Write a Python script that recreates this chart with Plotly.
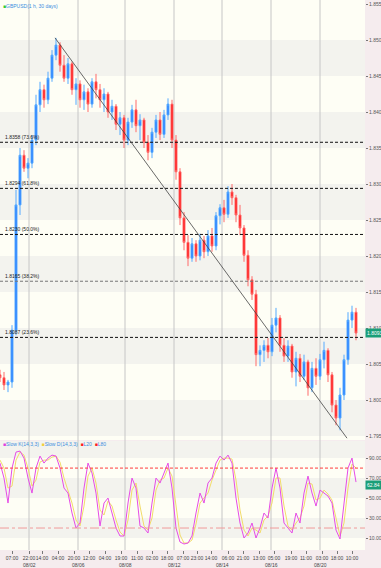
import plotly.graph_objects as go

# ---------------- data ----------------
bar_x = list(range(0, 360, 4))  # bar index (hours, 4-hour candles)

open_ = [1.8035,1.8031,1.8021,1.8025,1.8097,1.8271,1.8340,1.8322,1.8329,1.8361,
 1.8410,1.8431,1.8417,1.8447,1.8479,1.8493,1.8465,1.8447,1.8467,1.8431,
 1.8439,1.8417,1.8428,1.8411,1.8442,1.8431,1.8417,1.8425,1.8400,1.8408,
 1.8383,1.8392,1.8361,1.8386,1.8403,1.8381,1.8389,1.8358,1.8344,1.8372,
 1.8389,1.8369,1.8396,1.8411,1.8361,1.8317,1.8253,1.8219,1.8197,1.8217,
 1.8200,1.8222,1.8206,1.8228,1.8214,1.8256,1.8267,1.8258,1.8289,1.8281,
 1.8257,1.8239,1.8201,1.8167,1.8147,1.8063,1.8069,1.8076,1.8067,1.8104,
 1.8114,1.8076,1.8061,1.8075,1.8039,1.8058,1.8033,1.8053,1.8017,1.8044,
 1.8033,1.8056,1.8069,1.8035,1.7993,1.7975,1.8007,1.8056,1.8111,1.8122]
high = [1.8042,1.8039,1.8028,1.8104,1.8292,1.8350,1.8347,1.8336,1.8368,1.8424,
 1.8442,1.8438,1.8456,1.8486,1.8503,1.8497,1.8479,1.8475,1.8470,1.8447,
 1.8444,1.8438,1.8433,1.8447,1.8453,1.8439,1.8433,1.8428,1.8417,1.8411,
 1.8400,1.8396,1.8392,1.8410,1.8417,1.8397,1.8392,1.8368,1.8378,1.8396,
 1.8400,1.8403,1.8419,1.8417,1.8368,1.8322,1.8261,1.8229,1.8225,1.8222,
 1.8231,1.8228,1.8236,1.8239,1.8261,1.8272,1.8278,1.8297,1.8300,1.8285,
 1.8271,1.8243,1.8208,1.8172,1.8153,1.8076,1.8083,1.8086,1.8114,1.8128,
 1.8118,1.8086,1.8083,1.8078,1.8067,1.8064,1.8063,1.8056,1.8053,1.8058,
 1.8064,1.8081,1.8072,1.8039,1.8000,1.8017,1.8063,1.8122,1.8131,1.8128]
low = [1.8025,1.8014,1.8011,1.8017,1.8090,1.8257,1.8317,1.8308,1.8322,1.8354,
 1.8400,1.8406,1.8411,1.8442,1.8472,1.8456,1.8442,1.8439,1.8424,1.8410,
 1.8406,1.8403,1.8400,1.8406,1.8419,1.8406,1.8400,1.8392,1.8389,1.8375,
 1.8368,1.8350,1.8354,1.8378,1.8372,1.8361,1.8350,1.8333,1.8336,1.8364,
 1.8361,1.8364,1.8389,1.8350,1.8306,1.8243,1.8208,1.8186,1.8192,1.8192,
 1.8194,1.8197,1.8200,1.8206,1.8208,1.8244,1.8247,1.8253,1.8271,1.8247,
 1.8229,1.8192,1.8158,1.8139,1.8047,1.8047,1.8053,1.8058,1.8061,1.8094,
 1.8067,1.8053,1.8053,1.8031,1.8019,1.8025,1.8028,1.8006,1.8011,1.8021,
 1.8028,1.8044,1.8025,1.7983,1.7965,1.7958,1.8000,1.8049,1.8100,1.8083]
close = [1.8031,1.8021,1.8025,1.8097,1.8271,1.8340,1.8322,1.8329,1.8361,1.8410,
 1.8431,1.8417,1.8447,1.8479,1.8493,1.8465,1.8447,1.8467,1.8431,1.8439,
 1.8417,1.8428,1.8411,1.8442,1.8431,1.8417,1.8425,1.8400,1.8408,1.8383,
 1.8392,1.8361,1.8386,1.8403,1.8381,1.8389,1.8358,1.8344,1.8372,1.8389,
 1.8369,1.8396,1.8411,1.8361,1.8317,1.8253,1.8219,1.8197,1.8217,1.8200,
 1.8222,1.8206,1.8228,1.8214,1.8256,1.8267,1.8258,1.8289,1.8281,1.8257,
 1.8239,1.8201,1.8167,1.8147,1.8063,1.8069,1.8076,1.8067,1.8104,1.8114,
 1.8076,1.8061,1.8075,1.8039,1.8058,1.8033,1.8053,1.8017,1.8044,1.8033,
 1.8056,1.8069,1.8035,1.7993,1.7975,1.8007,1.8056,1.8111,1.8122,1.8093]

slow_k = [85,70,45,80,96,97,90,70,55,80,
 92,85,90,93,92,80,60,55,35,20,
 25,60,85,75,55,22,45,50,35,20,
 12,12,45,70,60,22,20,15,45,70,
 65,75,85,60,20,6,4,5,12,35,
 55,45,65,70,85,92,88,93,85,50,
 25,10,15,25,10,20,35,30,60,80,
 60,25,20,15,35,25,55,72,55,42,
 58,55,52,45,18,9,45,80,90,66]
slow_d = [88,80,60,62,88,96,93,80,62,68,
 86,88,88,91,92,86,70,58,45,28,
 22,42,72,80,65,38,33,47,42,28,
 16,12,28,58,65,42,22,18,30,58,
 68,70,80,72,40,13,5,5,8,24,
 45,50,55,68,78,88,90,90,89,68,
 38,18,12,20,18,15,28,32,45,70,
 70,42,22,18,25,30,42,65,64,48,
 50,58,54,48,30,12,25,60,84,80]

fib_prices = [1.8358, 1.8294, 1.8230, 1.8165, 1.8087]
fib_labels = ["1.8358 (73.6%)", "1.8294 (61.8%)", "1.8230 (50.0%)", "1.8165 (38.2%)", "1.8087 (23.6%)"]
fib_colors = ["#111111", "#111111", "#111111", "#777777", "#111111"]

trend_start = (55, 1.8503)
trend_end = (347, 1.7947)

price_ticks = [1.795, 1.800, 1.805, 1.810, 1.815, 1.820, 1.825, 1.830, 1.835, 1.840, 1.845, 1.850, 1.855]
stoch_ticks = [10, 30, 50, 70, 90]

time_tick_pos = [12, 29, 42, 58, 74, 89, 105, 121, 137, 152, 167, 183, 197, 211, 228, 243, 259, 274, 291, 306, 322, 337, 352]
time_tick_lbl = ["07:00","22:00","14:00","04:00","20:00","12:00","04:00","19:00","11:00","02:00","18:00",
                 "07:00","23:00","14:00","06:00","21:00","13:00","05:00","19:00","11:00","03:00","18:00","10:00"]
day_pos = [29, 78, 125, 174, 222, 271, 320]
day_lbl = ["08/02", "08/06", "08/08", "08/12", "08/14", "08/16", "08/20"]

last_price_lbl = "1.8093"
last_k_lbl = "62.84"

# ---------------- figure ----------------
CREAM = "#fefef5"
GRAY = "#f3f3ee"
FONT = "Liberation Sans"

fig = go.Figure()
fig.add_trace(go.Candlestick(
    x=bar_x, open=open_, high=high, low=low, close=close,
    xaxis="x", yaxis="y",
    increasing=dict(line=dict(color="#55aaff", width=1), fillcolor="#1c74ff"),
    decreasing=dict(line=dict(color="#ff6a6a", width=1), fillcolor="#ff0000"),
    whiskerwidth=0, hoverinfo="skip", showlegend=False))
fig.add_trace(go.Scatter(x=bar_x, y=slow_d, xaxis="x2", yaxis="y2", mode="lines",
                         line=dict(color="#f2dc6a", width=1), showlegend=False, hoverinfo="skip"))
fig.add_trace(go.Scatter(x=bar_x, y=slow_k, xaxis="x2", yaxis="y2", mode="lines",
                         line=dict(color="#e64ce6", width=1), showlegend=False, hoverinfo="skip"))

shapes = []
for lo in [1.845, 1.835, 1.825, 1.815, 1.805, 1.795]:
    shapes.append(dict(type="rect", xref="paper", yref="y", x0=0, x1=1, y0=lo, y1=lo + 0.005,
                       fillcolor=GRAY, line=dict(width=0), layer="below"))
for lo, hi in [(10, 30), (50, 70), (90, 107)]:
    shapes.append(dict(type="rect", xref="paper", yref="y2", x0=0, x1=1, y0=lo, y1=hi,
                       fillcolor=GRAY, line=dict(width=0), layer="below"))
for d in day_pos:
    shapes.append(dict(type="line", xref="x", yref="paper", x0=d, x1=d, y0=0, y1=1,
                       line=dict(color="#c6c6c6", width=1), layer="below"))
for p, c in zip(fib_prices, fib_colors):
    shapes.append(dict(type="line", xref="paper", yref="y", x0=0, x1=1, y0=p, y1=p,
                       line=dict(color=c, width=1, dash="3px,2px")))
shapes.append(dict(type="line", xref="x", yref="y", x0=trend_start[0], y0=trend_start[1],
                   x1=trend_end[0], y1=trend_end[1], line=dict(color="#444444", width=0.8)))
shapes.append(dict(type="line", xref="paper", yref="y2", x0=0, x1=1, y0=80, y1=80,
                   line=dict(color="#ff3c3c", width=1, dash="3px,2px")))
shapes.append(dict(type="line", xref="paper", yref="y2", x0=0, x1=1, y0=20, y1=20,
                   line=dict(color="#f09a9a", width=1, dash="dashdot")))

ann = []
ann.append(dict(xref="paper", yref="paper", x=0.003, y=0.999, xanchor="left", yanchor="top",
                showarrow=False, align="left",
                text='<span style="color:#33cc33">■</span>GBPUSD(1 h, 30 days)',
                font=dict(family=FONT, size=5, color="#3c8ee0")))
for p, t in zip(fib_prices, fib_labels):
    ann.append(dict(xref="x", yref="y", x=3, y=p, xanchor="left", yanchor="bottom",
                    showarrow=False, text=t, font=dict(family=FONT, size=5, color="#222222")))
ann.append(dict(xref="paper", yref="paper", x=0.003, y=0.193, xanchor="left", yanchor="middle",
                showarrow=False, align="left",
                text=('<span style="color:#e040e0">■</span>Slow K(14,3,3)  '
                      '<span style="color:#f2d040">■</span>Slow D(14,3,3)  '
                      '<span style="color:#ff2020">■</span>L20  '
                      '<span style="color:#ff2020">■</span>L80'),
                font=dict(family=FONT, size=5, color="#3c8ee0")))
for d, t in zip(day_pos, day_lbl):
    ann.append(dict(xref="x2", yref="paper", x=d, y=0, xanchor="center", yanchor="top",
                    yshift=-10, showarrow=False, text=t, font=dict(family=FONT, size=5, color="#444444")))
ann.append(dict(xref="paper", yref="y", x=1, y=close[-1], xanchor="left", yanchor="middle",
                showarrow=False, text=last_price_lbl, bgcolor="#1b9e78", borderpad=1,
                font=dict(family=FONT, size=5, color="#ffffff")))
ann.append(dict(xref="paper", yref="y2", x=1, y=slow_k[-1] - 3, xanchor="left", yanchor="middle",
                showarrow=False, text=last_k_lbl, bgcolor="#1b9e78", borderpad=1,
                font=dict(family=FONT, size=5, color="#ffffff")))

fig.update_layout(
    width=381, height=568,
    margin=dict(l=0, r=16, t=0, b=18, autoexpand=False),
    paper_bgcolor="#f5ecee", plot_bgcolor=CREAM,
    showlegend=False, hovermode=False,
    shapes=shapes, annotations=ann,
    xaxis=dict(domain=[0, 1], range=[0, 365], anchor="y", showticklabels=False, showgrid=False,
               zeroline=False, rangeslider=dict(visible=False), automargin=False),
    xaxis2=dict(domain=[0, 1], range=[0, 365], anchor="y2", showgrid=False, zeroline=False,
                tickmode="array", tickvals=time_tick_pos, ticktext=time_tick_lbl, tickangle=0,
                ticks="outside", ticklen=3, tickcolor="#777777", automargin=False,
                tickfont=dict(family=FONT, size=5, color="#444444")),
    yaxis=dict(domain=[0.2, 1], range=[1.79445, 1.85556], side="right", anchor="x",
               showgrid=False, zeroline=False, tickmode="array", tickvals=price_ticks,
               ticktext=[f"{v:.3f}" for v in price_ticks], ticks="outside", ticklen=2,
               tickcolor="#777777", automargin=False,
               tickfont=dict(family=FONT, size=5, color="#555555")),
    yaxis2=dict(domain=[0, 0.198], range=[-2, 107], side="right", anchor="x2",
                showgrid=False, zeroline=False, tickmode="array", tickvals=stoch_ticks,
                ticktext=[f"{v:.2f}" for v in stoch_ticks], ticks="outside", ticklen=2,
                tickcolor="#777777", automargin=False,
                tickfont=dict(family=FONT, size=5, color="#555555")),
)

fig.write_html("out.html", config={"displayModeBar": False, "staticPlot": True},
               post_script="document.body.style.margin='0';document.body.style.overflow='hidden';")
